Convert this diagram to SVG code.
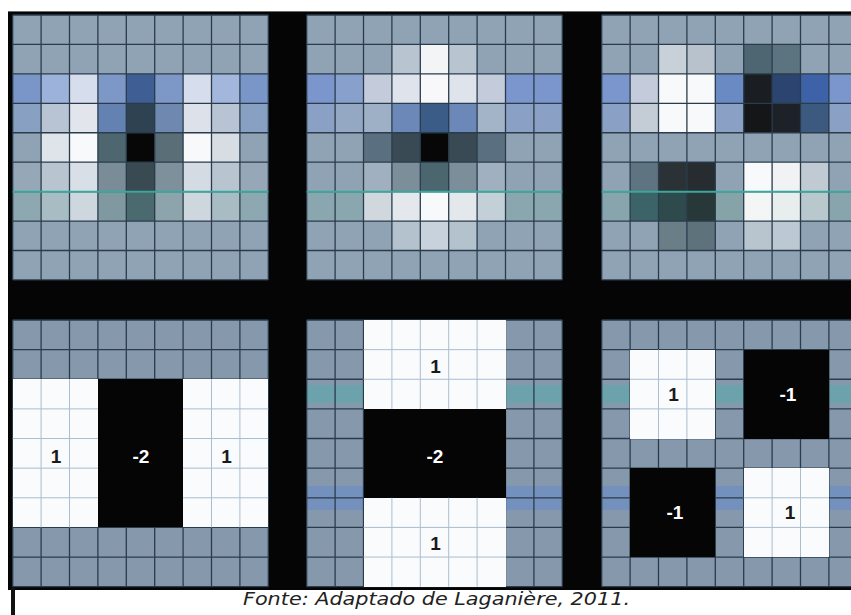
<svg xmlns="http://www.w3.org/2000/svg" width="851" height="615" viewBox="0 0 851 615">
<style>
.gl{fill:none;stroke:#2a3c4c;stroke-width:1.3;vector-effect:non-scaling-stroke}
.wl{fill:none;stroke:#a9bdd2;stroke-width:1;vector-effect:non-scaling-stroke}
.tl{fill:none;stroke:#3aa89c;stroke-width:2;vector-effect:non-scaling-stroke}
.bt{fill:#90a3b5}
.bb{fill:#8699ac}
.wh{fill:#fafbfc}
.bk{fill:#050505}
.lb{font-family:"Liberation Sans",Arial,sans-serif;font-weight:bold;font-size:19px;text-anchor:middle}
.d{fill:#1a1a1a}
.w{fill:#ffffff}
rect{shape-rendering:crispEdges}
</style>
<rect x="0" y="0" width="851" height="615" fill="#ffffff"/>
<rect x="8" y="11" width="843" height="579" fill="#050505"/>
<rect x="11" y="588" width="4" height="27" fill="#111111"/>
<rect x="8" y="10.5" width="843" height="1.5" fill="#6b6b6b"/>

<g id="panel-dxx" transform="translate(12.7,15) scale(28.4,29.44)">
<rect class="bt" x="0" y="0" width="9" height="9"/>
<rect x="0" y="2" width="1" height="1" fill="#7a96c8"/><rect x="1" y="2" width="1" height="1" fill="#9db2da"/><rect x="2" y="2" width="1" height="1" fill="#d6deee"/><rect x="3" y="2" width="1" height="1" fill="#7d98c6"/><rect x="4" y="2" width="1" height="1" fill="#3f5f94"/><rect x="5" y="2" width="1" height="1" fill="#7d98c6"/><rect x="6" y="2" width="1" height="1" fill="#d6deee"/><rect x="7" y="2" width="1" height="1" fill="#a3b6dc"/><rect x="8" y="2" width="1" height="1" fill="#7a96c8"/>
<rect x="0" y="3" width="1" height="1" fill="#88a0c2"/><rect x="1" y="3" width="1" height="1" fill="#b8c4d4"/><rect x="2" y="3" width="1" height="1" fill="#e2e6ec"/><rect x="3" y="3" width="1" height="1" fill="#6382b2"/><rect x="4" y="3" width="1" height="1" fill="#2f4252"/><rect x="5" y="3" width="1" height="1" fill="#6f88b0"/><rect x="6" y="3" width="1" height="1" fill="#dde2ea"/><rect x="7" y="3" width="1" height="1" fill="#b8c4d4"/><rect x="8" y="3" width="1" height="1" fill="#88a0c2"/>
<rect x="1" y="4" width="1" height="1" fill="#dfe4ea"/><rect x="2" y="4" width="1" height="1" fill="#f8f9fb"/><rect x="3" y="4" width="1" height="1" fill="#4e6670"/><rect x="4" y="4" width="1" height="1" fill="#070707"/><rect x="5" y="4" width="1" height="1" fill="#5a6e78"/><rect x="6" y="4" width="1" height="1" fill="#f8f9fb"/><rect x="7" y="4" width="1" height="1" fill="#d8dde4"/>
<rect x="0" y="5" width="1" height="1" fill="#96a8b8"/><rect x="1" y="5" width="1" height="1" fill="#b8c4d0"/><rect x="2" y="5" width="1" height="1" fill="#d8dfe6"/><rect x="3" y="5" width="1" height="1" fill="#7a8c98"/><rect x="4" y="5" width="1" height="1" fill="#3a4a52"/><rect x="5" y="5" width="1" height="1" fill="#7e909c"/><rect x="6" y="5" width="1" height="1" fill="#d4dbe2"/><rect x="7" y="5" width="1" height="1" fill="#b8c4d0"/><rect x="8" y="5" width="1" height="1" fill="#96a8b8"/>
<rect x="0" y="6" width="1" height="1" fill="#8ea8b2"/><rect x="1" y="6" width="1" height="1" fill="#a8bcc4"/><rect x="2" y="6" width="1" height="1" fill="#cdd7dd"/><rect x="3" y="6" width="1" height="1" fill="#8098a0"/><rect x="4" y="6" width="1" height="1" fill="#4a6a70"/><rect x="5" y="6" width="1" height="1" fill="#8ea4ac"/><rect x="6" y="6" width="1" height="1" fill="#cdd7dd"/><rect x="7" y="6" width="1" height="1" fill="#a8bcc4"/><rect x="8" y="6" width="1" height="1" fill="#8ea8b2"/>
<path class="gl" d="M0 0V9M1 0V9M2 0V9M3 0V9M4 0V9M5 0V9M6 0V9M7 0V9M8 0V9M9 0V9M0 0H9M0 1H9M0 2H9M0 3H9M0 4H9M0 5H9M0 6H9M0 7H9M0 8H9M0 9H9"/>
<path class="tl" d="M0 6H9"/>
</g>

<g id="panel-dyy" transform="translate(306.7,15) scale(28.4,29.44)">
<rect class="bt" x="0" y="0" width="9" height="9"/>
<rect x="3" y="1" width="1" height="1" fill="#b8c4d0"/><rect x="4" y="1" width="1" height="1" fill="#f2f4f6"/><rect x="5" y="1" width="1" height="1" fill="#b8c4d0"/>
<rect x="0" y="2" width="1" height="1" fill="#7a96cc"/><rect x="1" y="2" width="1" height="1" fill="#88a0cc"/><rect x="2" y="2" width="1" height="1" fill="#c4ccdc"/><rect x="3" y="2" width="1" height="1" fill="#dfe4ec"/><rect x="4" y="2" width="1" height="1" fill="#f8f8fa"/><rect x="5" y="2" width="1" height="1" fill="#dfe4ec"/><rect x="6" y="2" width="1" height="1" fill="#c4ccdc"/><rect x="7" y="2" width="1" height="1" fill="#7a96cc"/><rect x="8" y="2" width="1" height="1" fill="#7a96cc"/>
<rect x="0" y="3" width="1" height="1" fill="#8aa0c4"/><rect x="1" y="3" width="1" height="1" fill="#94a8c4"/><rect x="2" y="3" width="1" height="1" fill="#9eb0c6"/><rect x="3" y="3" width="1" height="1" fill="#6b88b8"/><rect x="4" y="3" width="1" height="1" fill="#3c5c88"/><rect x="5" y="3" width="1" height="1" fill="#6b88b8"/><rect x="6" y="3" width="1" height="1" fill="#a4b4c8"/><rect x="7" y="3" width="1" height="1" fill="#8aa0c4"/><rect x="8" y="3" width="1" height="1" fill="#8aa0c4"/>
<rect x="2" y="4" width="1" height="1" fill="#5a7080"/><rect x="3" y="4" width="1" height="1" fill="#3a4a54"/><rect x="4" y="4" width="1" height="1" fill="#070707"/><rect x="5" y="4" width="1" height="1" fill="#3a4a54"/><rect x="6" y="4" width="1" height="1" fill="#5a7080"/>
<rect x="2" y="5" width="1" height="1" fill="#a0b0be"/><rect x="3" y="5" width="1" height="1" fill="#7c8e9a"/><rect x="4" y="5" width="1" height="1" fill="#4c6670"/><rect x="5" y="5" width="1" height="1" fill="#7c8e9a"/><rect x="6" y="5" width="1" height="1" fill="#a0b0be"/>
<rect x="0" y="6" width="1" height="1" fill="#8aa6ae"/><rect x="1" y="6" width="1" height="1" fill="#8aa6ae"/><rect x="2" y="6" width="1" height="1" fill="#d0d8de"/><rect x="3" y="6" width="1" height="1" fill="#e4e8ec"/><rect x="4" y="6" width="1" height="1" fill="#f8f9fa"/><rect x="5" y="6" width="1" height="1" fill="#e4e8ec"/><rect x="6" y="6" width="1" height="1" fill="#c4d0d8"/><rect x="7" y="6" width="1" height="1" fill="#8aa6ae"/><rect x="8" y="6" width="1" height="1" fill="#8aa6ae"/>
<rect x="3" y="7" width="1" height="1" fill="#b4c2ce"/><rect x="4" y="7" width="1" height="1" fill="#c8d2dc"/><rect x="5" y="7" width="1" height="1" fill="#b4c2ce"/>
<path class="gl" d="M0 0V9M1 0V9M2 0V9M3 0V9M4 0V9M5 0V9M6 0V9M7 0V9M8 0V9M9 0V9M0 0H9M0 1H9M0 2H9M0 3H9M0 4H9M0 5H9M0 6H9M0 7H9M0 8H9M0 9H9"/>
<path class="tl" d="M0 6H9"/>
</g>

<g id="panel-dxy" transform="translate(601.7,15) scale(28.4,29.44)">
<rect class="bt" x="0" y="0" width="9" height="9"/>
<rect x="2" y="1" width="1" height="1" fill="#c8d0d8"/><rect x="3" y="1" width="1" height="1" fill="#b8c2cc"/><rect x="5" y="1" width="1" height="1" fill="#4e6672"/><rect x="6" y="1" width="1" height="1" fill="#5c7480"/>
<rect x="0" y="2" width="1" height="1" fill="#7a96cc"/><rect x="1" y="2" width="1" height="1" fill="#c4ccdc"/><rect x="2" y="2" width="1" height="1" fill="#f8f9fa"/><rect x="3" y="2" width="1" height="1" fill="#f8f9fa"/><rect x="4" y="2" width="1" height="1" fill="#6a8ac4"/><rect x="5" y="2" width="1" height="1" fill="#1a1e22"/><rect x="6" y="2" width="1" height="1" fill="#2c4470"/><rect x="7" y="2" width="1" height="1" fill="#3e62a8"/><rect x="8" y="2" width="1" height="1" fill="#7a96cc"/>
<rect x="0" y="3" width="1" height="1" fill="#8aa0c4"/><rect x="1" y="3" width="1" height="1" fill="#c4ccd6"/><rect x="2" y="3" width="1" height="1" fill="#f8f9fa"/><rect x="3" y="3" width="1" height="1" fill="#f8f9fa"/><rect x="4" y="3" width="1" height="1" fill="#8aa0c4"/><rect x="5" y="3" width="1" height="1" fill="#141618"/><rect x="6" y="3" width="1" height="1" fill="#1c2228"/><rect x="7" y="3" width="1" height="1" fill="#3c5a80"/><rect x="8" y="3" width="1" height="1" fill="#8aa0c4"/>
<rect x="1" y="5" width="1" height="1" fill="#5e7480"/><rect x="2" y="5" width="1" height="1" fill="#2a3236"/><rect x="3" y="5" width="1" height="1" fill="#262c30"/><rect x="5" y="5" width="1" height="1" fill="#f8f9fa"/><rect x="6" y="5" width="1" height="1" fill="#f0f2f4"/><rect x="7" y="5" width="1" height="1" fill="#c0cad2"/>
<rect x="0" y="6" width="1" height="1" fill="#88a4ac"/><rect x="1" y="6" width="1" height="1" fill="#3c6468"/><rect x="2" y="6" width="1" height="1" fill="#2e4a4c"/><rect x="3" y="6" width="1" height="1" fill="#283838"/><rect x="4" y="6" width="1" height="1" fill="#86a4a8"/><rect x="5" y="6" width="1" height="1" fill="#f4f6f6"/><rect x="6" y="6" width="1" height="1" fill="#e8eeee"/><rect x="7" y="6" width="1" height="1" fill="#b8c8cc"/><rect x="8" y="6" width="1" height="1" fill="#88a4ac"/>
<rect x="2" y="7" width="1" height="1" fill="#6a7e88"/><rect x="3" y="7" width="1" height="1" fill="#5e727c"/><rect x="5" y="7" width="1" height="1" fill="#b8c4ce"/><rect x="6" y="7" width="1" height="1" fill="#bcc8d2"/>
<path class="gl" d="M0 0V9M1 0V9M2 0V9M3 0V9M4 0V9M5 0V9M6 0V9M7 0V9M8 0V9M9 0V9M0 0H9M0 1H9M0 2H9M0 3H9M0 4H9M0 5H9M0 6H9M0 7H9M0 8H9M0 9H9"/>
<path class="tl" d="M0 6H9"/>
</g>

<g id="panel-box-xx">
<g transform="translate(12.7,320) scale(28.4,29.63)">
<rect class="bb" x="0" y="0" width="9" height="9"/>
<path class="gl" d="M0 0V9M1 0V9M2 0V9M3 0V9M4 0V9M5 0V9M6 0V9M7 0V9M8 0V9M9 0V9M0 0H9M0 1H9M0 2H9M0 3H9M0 4H9M0 5H9M0 6H9M0 7H9M0 8H9M0 9H9"/>
<rect class="wh" x="0" y="2" width="3" height="5"/>
<rect class="wh" x="6" y="2" width="3" height="5"/>
<rect class="bk" x="3" y="2" width="3" height="5"/>
<path class="wl" d="M1 2V7M2 2V7M0 3H3M0 4H3M0 5H3M0 6H3M7 2V7M8 2V7M6 3H9M6 4H9M6 5H9M6 6H9"/>
</g>
<text class="lb d" x="56" y="463">1</text>
<text class="lb w" x="141" y="463">-2</text>
<text class="lb d" x="226.5" y="463">1</text>
</g>

<g id="panel-box-yy">
<g transform="translate(306.7,320) scale(28.4,29.63)">
<rect class="bb" x="0" y="0" width="9" height="9"/>
<rect x="0" y="2.2" width="9" height="0.6" fill="#3cb4a8" opacity="0.35"/>
<rect x="0" y="5.6" width="9" height="0.8" fill="#4d7ee0" opacity="0.32"/>
<path class="gl" d="M0 0V9M1 0V9M2 0V9M3 0V9M4 0V9M5 0V9M6 0V9M7 0V9M8 0V9M9 0V9M0 0H9M0 1H9M0 2H9M0 3H9M0 4H9M0 5H9M0 6H9M0 7H9M0 8H9M0 9H9"/>
<rect class="wh" x="2" y="0" width="5" height="3"/>
<rect class="wh" x="2" y="6" width="5" height="3"/>
<rect class="bk" x="2" y="3" width="5" height="3"/>
<path class="wl" d="M3 0V3M4 0V3M5 0V3M6 0V3M2 1H7M2 2H7M3 6V9M4 6V9M5 6V9M6 6V9M2 7H7M2 8H7"/>
</g>
<text class="lb d" x="435.5" y="372.5">1</text>
<text class="lb w" x="435" y="462.5">-2</text>
<text class="lb d" x="435.5" y="549.5">1</text>
</g>

<g id="panel-box-xy">
<g transform="translate(601.7,320) scale(28.4,29.63)">
<rect class="bb" x="0" y="0" width="9" height="9"/>
<rect x="0" y="2.2" width="9" height="0.6" fill="#3cb4a8" opacity="0.35"/>
<rect x="0" y="5.6" width="9" height="0.8" fill="#4d7ee0" opacity="0.32"/>
<path class="gl" d="M0 0V9M1 0V9M2 0V9M3 0V9M4 0V9M5 0V9M6 0V9M7 0V9M8 0V9M9 0V9M0 0H9M0 1H9M0 2H9M0 3H9M0 4H9M0 5H9M0 6H9M0 7H9M0 8H9M0 9H9"/>
<rect class="wh" x="1" y="1" width="3" height="3"/>
<rect class="bk" x="5" y="1" width="3" height="3"/>
<rect class="bk" x="1" y="5" width="3" height="3"/>
<rect class="wh" x="5" y="5" width="3" height="3"/>
<path class="wl" d="M2 1V4M3 1V4M1 2H4M1 3H4M6 5V8M7 5V8M5 6H8M5 7H8"/>
</g>
<text class="lb d" x="673.5" y="400.5">1</text>
<text class="lb w" x="788" y="400.5">-1</text>
<text class="lb w" x="675" y="519">-1</text>
<text class="lb d" x="790" y="519">1</text>
</g>

<rect x="15" y="590" width="836" height="25" fill="#ffffff"/>
<text x="436.5" y="604.5" font-family="'DejaVu Sans',Verdana,sans-serif" font-style="italic" font-size="17.5" fill="#222222" text-anchor="middle" textLength="387" lengthAdjust="spacingAndGlyphs">Fonte: Adaptado de Laganière, 2011.</text>
</svg>
